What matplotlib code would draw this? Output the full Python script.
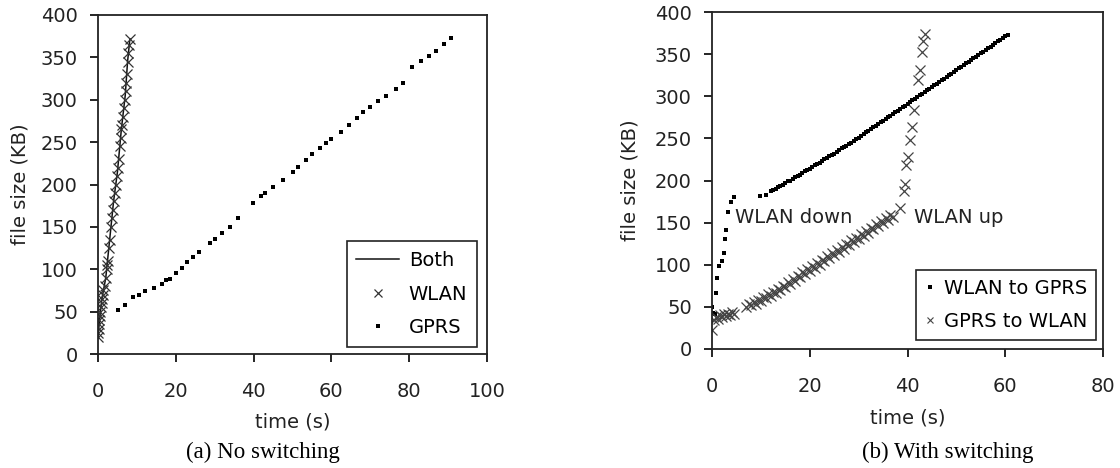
import matplotlib
matplotlib.use("Agg")
import matplotlib.pyplot as plt
from matplotlib.lines import Line2D

# (a) no switching -----------------------------------------------------------------#
wlan_t = [0.0, 0.1, 0.2, 0.3, 0.3, 0.5, 0.6, 0.7, 0.9, 1.0, 1.2, 1.4, 1.8, 2.0, 2.2, 2.4,
          2.6, 2.8, 3.0, 3.3, 3.5, 3.8, 4.0, 4.3, 4.6, 4.9, 5.1, 5.3, 5.6, 5.8, 6.0, 6.2,
          6.5, 6.7, 6.9, 7.1, 7.3, 7.5, 7.6, 7.8, 8.0, 8.2]
wlan_kb = [20, 25, 30, 35, 40, 45, 50, 55, 60, 65, 70, 75, 80, 90, 100, 105,
           110, 125, 135, 150, 160, 170, 180, 190, 200, 210, 220, 230, 245, 255, 265, 270,
           280, 290, 300, 310, 320, 330, 345, 355, 365, 372]
both_t = [0.0, 0.5, 1.0, 2.0, 3.0, 4.0, 5.0, 6.0, 7.0, 7.6, 8.2]
both_kb = [20, 45, 65, 90, 135, 180, 215, 265, 305, 345, 372]
gprs_t = [5.1, 7.0, 9.0, 10.5, 12.0, 14.5, 16.5, 17.6, 18.5, 20.0, 21.5, 23.0, 24.5, 26.0,
          28.7, 30.0, 32.0, 34.0, 36.0, 39.8, 42.0, 43.0, 45.0, 47.5, 50.0, 51.5, 53.5, 55.0,
          57.0, 58.5, 60.0, 62.5, 64.6, 66.5, 68.0, 70.0, 72.0, 74.0, 76.5, 78.5, 80.8, 83.0,
          85.0, 87.0, 89.0, 90.8]
gprs_kb = [52, 58, 67, 70, 74, 78, 83, 87, 89, 95, 102, 108, 115, 120,
           131, 136, 143, 150, 160, 178, 186, 190, 197, 205, 215, 221, 229, 236,
           243, 249, 254, 262, 270, 279, 285, 291, 298, 305, 313, 320, 339, 346,
           352, 358, 366, 373]

# (b) with switching ---------------------------------------------------------------#
w2g_t = [0.0, 0.3, 0.6, 0.8, 1.1, 1.5, 2.0, 2.5, 2.7, 2.9, 3.2, 3.9, 4.4, 9.9, 11.0,
         12.0, 12.5, 13.0, 13.5, 14.0, 14.5, 15.0, 15.5, 16.0, 16.5, 17.0, 17.5, 18.0, 18.5,
         19.0, 19.5, 20.0, 20.5, 21.0, 21.5, 22.0, 22.5, 23.0, 23.5, 24.0, 24.5, 25.0, 25.5,
         26.0, 26.5, 27.0, 27.5, 28.0, 28.5, 29.0, 29.5, 30.0, 30.5, 31.0, 31.5, 32.0, 32.5,
         33.0, 33.5, 34.0, 34.5, 35.0, 35.5, 36.0, 36.5, 37.0, 37.5, 38.0, 38.5, 39.0, 39.5,
         40.0, 40.5, 41.0, 41.5, 42.0, 42.5, 43.0, 43.5, 44.0, 44.5, 45.0, 45.5, 46.0, 46.5,
         47.0, 47.5, 48.0, 48.5, 49.0, 49.5, 50.0, 50.5, 51.0, 51.5, 52.0, 52.5, 53.0, 53.5,
         54.0, 54.5, 55.0, 55.5, 56.0, 56.5, 57.0, 57.5, 58.0, 58.5, 59.0, 59.5, 60.0, 60.5]
w2g_kb = [50, 43, 41, 67, 84, 98, 104, 114, 130, 141, 163, 175, 180, 182, 183,
          187, 189, 190, 192, 194, 195, 197, 199, 200, 202, 204, 205, 207, 209,
          211, 212, 214, 216, 218, 219, 221, 223, 225, 227, 229, 230, 232, 234,
          236, 238, 240, 241, 243, 245, 247, 249, 251, 253, 255, 257, 259, 261,
          263, 265, 267, 269, 271, 273, 275, 277, 279, 281, 283, 285, 287, 289,
          291, 293, 295, 297, 299, 301, 303, 305, 307, 309, 311, 313, 315, 317,
          319, 321, 323, 325, 327, 329, 331, 333, 335, 337, 339, 341, 343, 345,
          347, 349, 351, 353, 355, 357, 359, 361, 363, 365, 367, 369, 371, 373]
g2w_t = [0.0, 0.4, 0.8, 1.2, 1.6, 2.0, 2.4, 2.8, 3.2, 3.6, 4.0, 4.4,
         7.0, 7.5, 8.0, 8.5, 9.0, 9.5, 10.0, 10.5, 11.0, 11.5, 12.0, 12.5, 13.0, 13.5,
         14.0, 14.5, 15.0, 15.5, 16.0, 16.5, 17.0, 17.5, 18.0, 18.5, 19.0, 19.5, 20.0, 20.5,
         21.0, 21.5, 22.0, 22.5, 23.0, 23.5, 24.0, 24.5, 25.0, 25.5, 26.0, 26.5, 27.0, 27.5,
         28.0, 28.5, 29.0, 29.5, 30.0, 30.5, 31.0, 31.5, 32.0, 32.5, 33.0, 33.5, 34.0, 34.5,
         35.0, 35.5, 36.0, 36.5, 37.0,
         38.5, 39.2, 39.4, 39.7, 40.2, 40.6, 41.0, 41.3, 42.2, 42.5, 42.9, 43.2, 43.6]
g2w_kb = [22, 35, 38, 36, 40, 38, 41, 39, 42, 40, 44, 42,
          50, 54, 52, 56, 54, 58, 57, 62, 60, 65, 63, 68, 66, 71,
          70, 75, 73, 79, 77, 83, 81, 87, 85, 91, 89, 95, 93, 99,
          96, 102, 100, 106, 104, 110, 108, 114, 112, 117, 115, 121, 119, 125,
          123, 129, 127, 132, 130, 136, 134, 140, 138, 144, 142, 148, 146, 152,
          150, 155, 153, 159, 157,
          167, 187, 196, 218, 228, 248, 263, 284, 319, 331, 353, 365, 374]

y_ticks = [0, 50, 100, 150, 200, 250, 300, 350, 400]
x_ticks_a = [0, 20, 40, 60, 80, 100]
x_ticks_b = [0, 20, 40, 60, 80]

plt.rcParams['font.family'] = ['DejaVu Sans']
plt.rcParams['font.size'] = 14

W, H = 1120, 468
fig = plt.figure(figsize=(W / 100, H / 100), dpi=100)

def styleAxes(ax, xticks, xmax, px_w, px_h, ylab_px):
    ax.set_xlim(0, xmax)
    ax.set_ylim(0, 400)
    ax.set_xticks(xticks)
    ax.set_yticks(y_ticks)
    ax.tick_params(direction='out', length=6, width=1.2, colors='black', labelcolor='#222222')
    ax.tick_params(axis='x', pad=14)
    ax.tick_params(axis='y', pad=8.5)
    for sp in ax.spines.values():
        sp.set_linewidth(1.3)
        sp.set_color('#222222')
    ax.set_xlabel('time (s)', color='#222222')
    ax.set_ylabel('file size (KB)', color='#222222')
    ax.xaxis.set_label_coords(0.5, -59 / px_h)
    ax.yaxis.set_label_coords(-ylab_px / px_w, 0.5)

# left chart
ax1 = fig.add_axes([98 / W, 1 - 354 / H, 389 / W, 339 / H])
ax1.plot(both_t, both_kb, color='#111111', lw=1.1)
ax1.plot(wlan_t, wlan_kb, ls='none', marker='x', ms=6.5, mew=0.9, color='#333333')
ax1.plot(gprs_t, gprs_kb, ls='none', marker='s', ms=2.4, mew=0, color='black')
styleAxes(ax1, x_ticks_a, 100, 389, 339, 68)
handles = [Line2D([], [], color='#111111', lw=1.1),
           Line2D([], [], ls='none', marker='x', ms=6, mew=0.9, color='#333333'),
           Line2D([], [], ls='none', marker='s', ms=2.5, mew=0, color='black')]
leg = ax1.legend(handles, ['Both', 'WLAN', 'GPRS'], loc='lower right',
                 bbox_to_anchor=(379 / 389, 7 / 339), borderaxespad=0, fancybox=False,
                 edgecolor='#222222', framealpha=1, handlelength=2.2, handletextpad=0.5,
                 labelspacing=0.75, borderpad=0.5)
leg.get_frame().set_linewidth(1.2)

# right chart
ax2 = fig.add_axes([712 / W, 1 - 349 / H, 391 / W, 337 / H])
ax2.plot(w2g_t, w2g_kb, ls='none', marker='s', ms=3.0, mew=0, color='black')
ax2.plot(g2w_t, g2w_kb, ls='none', marker='x', ms=6.5, mew=0.9, color='#444444')
ax2.text(4.7, 156, 'WLAN down', ha='left', va='center', color='#222222')
ax2.text(41.3, 156, 'WLAN up', ha='left', va='center', color='#222222')
styleAxes(ax2, x_ticks_b, 80, 391, 337, 72)
handles = [Line2D([], [], ls='none', marker='s', ms=2.5, mew=0, color='black'),
           Line2D([], [], ls='none', marker='x', ms=5, mew=0.8, color='#444444')]
leg = ax2.legend(handles, ['WLAN to GPRS', 'GPRS to WLAN'], loc='lower right',
                 bbox_to_anchor=(384 / 391, 9 / 337), borderaxespad=0, fancybox=False,
                 edgecolor='#222222', framealpha=1, handlelength=0.6, handletextpad=0.4,
                 labelspacing=0.75, borderpad=0.45)
leg.get_frame().set_linewidth(1.2)

# captions
fig.text(263 / W, 1 - 452 / H, '(a) No switching', ha='center', va='center',
         family='Liberation Serif', fontsize=16.5)
fig.text(948 / W, 1 - 452 / H, '(b) With switching', ha='center', va='center',
         family='Liberation Serif', fontsize=16.5)

fig.savefig('out.png', dpi=100)
